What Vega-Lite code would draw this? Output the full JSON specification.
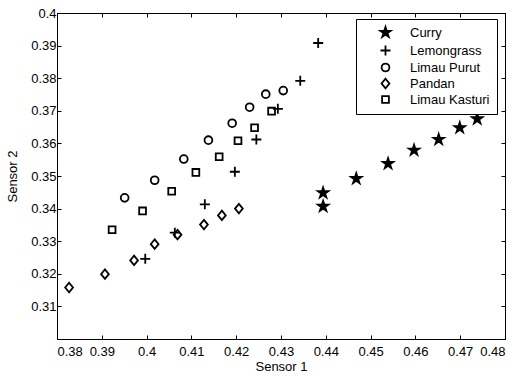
{
  "$schema": "https://vega.github.io/schema/vega-lite/v6.json",
  "width": 448,
  "height": 326,
  "autosize": {"type": "none"},
  "padding": {"left": 57, "top": 13, "right": 11, "bottom": 38},
  "background": "white",
  "config": {
    "font": "Liberation Sans",
    "view": {"stroke": "black", "strokeWidth": 1},
    "axis": {
      "grid": false,
      "domainColor": "black",
      "domainWidth": 1,
      "tickColor": "black",
      "tickSize": -4,
      "labelFont": "Liberation Sans",
      "labelFontSize": 13,
      "labelColor": "black",
      "titleFont": "Liberation Sans",
      "titleFontSize": 13,
      "titleFontWeight": "normal",
      "titleColor": "black"
    },
    "legend": {
      "labelFont": "Liberation Sans",
      "labelFontSize": 13,
      "labelColor": "black"
    }
  },
  "data": {
    "values": [
      {"series": "Curry", "x": 0.4394, "y": 0.3448},
      {"series": "Curry", "x": 0.4394, "y": 0.3407},
      {"series": "Curry", "x": 0.4468, "y": 0.3492},
      {"series": "Curry", "x": 0.4539, "y": 0.3538},
      {"series": "Curry", "x": 0.4597, "y": 0.3579},
      {"series": "Curry", "x": 0.4652, "y": 0.3612},
      {"series": "Curry", "x": 0.4699, "y": 0.3648},
      {"series": "Curry", "x": 0.4738, "y": 0.3675},
      {"series": "Lemongrass", "x": 0.4383, "y": 0.3908},
      {"series": "Lemongrass", "x": 0.4343, "y": 0.3792},
      {"series": "Lemongrass", "x": 0.4293, "y": 0.3706},
      {"series": "Lemongrass", "x": 0.4245, "y": 0.3612},
      {"series": "Lemongrass", "x": 0.4197, "y": 0.3513},
      {"series": "Lemongrass", "x": 0.4130, "y": 0.3413},
      {"series": "Lemongrass", "x": 0.4063, "y": 0.3326},
      {"series": "Lemongrass", "x": 0.3997, "y": 0.3246},
      {"series": "Limau Purut", "x": 0.3951, "y": 0.3433},
      {"series": "Limau Purut", "x": 0.4018, "y": 0.3487},
      {"series": "Limau Purut", "x": 0.4083, "y": 0.3552},
      {"series": "Limau Purut", "x": 0.4138, "y": 0.3610},
      {"series": "Limau Purut", "x": 0.4191, "y": 0.3662},
      {"series": "Limau Purut", "x": 0.4230, "y": 0.3711},
      {"series": "Limau Purut", "x": 0.4266, "y": 0.3751},
      {"series": "Limau Purut", "x": 0.4305, "y": 0.3762},
      {"series": "Pandan", "x": 0.3827, "y": 0.3158},
      {"series": "Pandan", "x": 0.3907, "y": 0.3199},
      {"series": "Pandan", "x": 0.3972, "y": 0.3241},
      {"series": "Pandan", "x": 0.4018, "y": 0.3291},
      {"series": "Pandan", "x": 0.4069, "y": 0.3320},
      {"series": "Pandan", "x": 0.4128, "y": 0.3351},
      {"series": "Pandan", "x": 0.4168, "y": 0.3379},
      {"series": "Pandan", "x": 0.4206, "y": 0.3400},
      {"series": "Limau Kasturi", "x": 0.3923, "y": 0.3335},
      {"series": "Limau Kasturi", "x": 0.3991, "y": 0.3393},
      {"series": "Limau Kasturi", "x": 0.4056, "y": 0.3453},
      {"series": "Limau Kasturi", "x": 0.4110, "y": 0.3511},
      {"series": "Limau Kasturi", "x": 0.4162, "y": 0.3559},
      {"series": "Limau Kasturi", "x": 0.4204, "y": 0.3608},
      {"series": "Limau Kasturi", "x": 0.4241, "y": 0.3648},
      {"series": "Limau Kasturi", "x": 0.4279, "y": 0.3699}
    ]
  },
  "layer": [
    {
      "mark": {"type": "point", "strokeWidth": 1.8, "size": 100, "opacity": 1},
      "encoding": {
        "x": {
          "field": "x", "type": "quantitative",
          "scale": {"domain": [0.38, 0.48], "nice": false, "zero": false},
          "axis": {"orient": "bottom", "title": "Sensor 1", "values": [0.38, 0.39, 0.4, 0.41, 0.42, 0.43, 0.44, 0.45, 0.46, 0.47, 0.48], "format": ".2~f", "labelPadding": 10, "titlePadding": 2}
        },
        "y": {
          "field": "y", "type": "quantitative",
          "scale": {"domain": [0.3, 0.4], "nice": false, "zero": false},
          "axis": {"orient": "left", "title": "Sensor 2", "values": [0.31, 0.32, 0.33, 0.34, 0.35, 0.36, 0.37, 0.38, 0.39, 0.4], "format": ".2~f", "labelPadding": 5, "titlePadding": 11}
        },
        "shape": {
          "field": "series", "type": "nominal",
          "scale": {
            "domain": ["Curry", "Lemongrass", "Limau Purut", "Pandan", "Limau Kasturi"],
            "range": [
              "M0,-1.1L0.246,-0.338L1.046,-0.34L0.397,0.129L0.647,0.89L0,0.417L-0.647,0.89L-0.397,0.129L-1.046,-0.34L-0.246,-0.338Z",
              "M-1,0L1,0M0,-1L0,1",
              "M-0.78,0A0.78,0.78 0 1,1 0.78,0A0.78,0.78 0 1,1 -0.78,0Z",
              "M0,-0.95L0.78,0L0,0.95L-0.78,0Z",
              "M-0.68,-0.68L0.68,-0.68L0.68,0.68L-0.68,0.68Z"
            ]
          },
          "legend": {
            "title": null, "orient": "none", "legendX": 299, "legendY": 6,
            "strokeColor": "black", "fillColor": "white", "padding": 7,
            "symbolOffset": 16, "labelOffset": 18, "rowPadding": 0,
            "symbolSize": 100, "symbolStrokeWidth": 1.8
          }
        },
        "fill": {
          "field": "series", "type": "nominal",
          "scale": {
            "domain": ["Curry", "Lemongrass", "Limau Purut", "Pandan", "Limau Kasturi"],
            "range": ["black", "transparent", "transparent", "transparent", "transparent"]
          },
          "legend": {
            "title": null, "orient": "none", "legendX": 299, "legendY": 6,
            "strokeColor": "black", "fillColor": "white", "padding": 7,
            "symbolOffset": 16, "labelOffset": 18, "rowPadding": 0,
            "symbolSize": 100, "symbolStrokeWidth": 1.8
          }
        },
        "stroke": {
          "field": "series", "type": "nominal",
          "scale": {
            "domain": ["Curry", "Lemongrass", "Limau Purut", "Pandan", "Limau Kasturi"],
            "range": ["black", "black", "black", "black", "black"]
          },
          "legend": {
            "title": null, "orient": "none", "legendX": 299, "legendY": 6,
            "strokeColor": "black", "fillColor": "white", "padding": 7,
            "symbolOffset": 16, "labelOffset": 18, "rowPadding": 0,
            "symbolSize": 100, "symbolStrokeWidth": 1.8
          }
        }
      }
    },
    {
      "mark": {"type": "point", "opacity": 0},
      "encoding": {
        "x": {
          "field": "x", "type": "quantitative",
          "scale": {"domain": [0.38, 0.48], "nice": false, "zero": false},
          "axis": {"orient": "top", "title": null, "labels": false, "values": [0.38, 0.39, 0.4, 0.41, 0.42, 0.43, 0.44, 0.45, 0.46, 0.47, 0.48]}
        },
        "y": {
          "field": "y", "type": "quantitative",
          "scale": {"domain": [0.3, 0.4], "nice": false, "zero": false},
          "axis": {"orient": "right", "title": null, "labels": false, "values": [0.31, 0.32, 0.33, 0.34, 0.35, 0.36, 0.37, 0.38, 0.39, 0.4]}
        }
      }
    }
  ],
  "resolve": {"axis": {"x": "independent", "y": "independent"}}
}
